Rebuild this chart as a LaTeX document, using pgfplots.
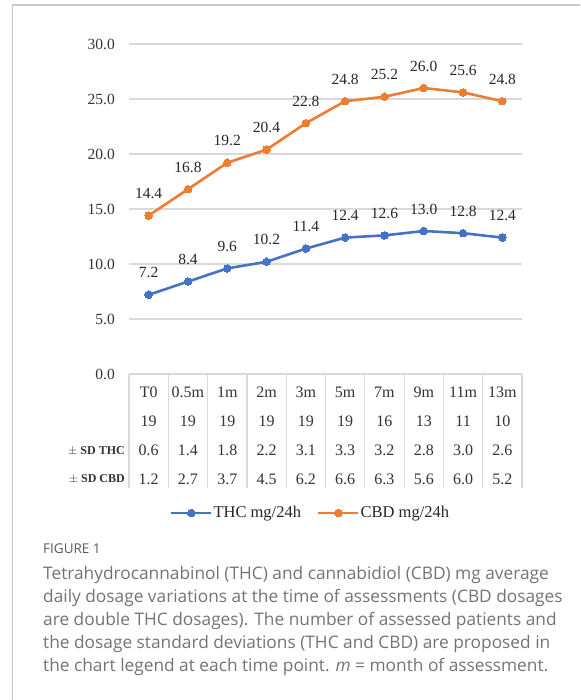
\documentclass[border=0pt]{standalone}
\usepackage{pgfplots}
\pgfplotsset{compat=1.18}
\usepackage{fontspec}
\setmainfont{Liberation Serif}
\newfontfamily\capfont{Open Sans}

\definecolor{thcblue}{HTML}{4472C4}
\definecolor{cbdorange}{HTML}{ED7D31}
\definecolor{gridcol}{HTML}{D9D9D9}
\definecolor{framecol}{HTML}{C8C8C8}
\definecolor{capgray}{HTML}{5A5A5A}

\begin{document}
\begin{tikzpicture}[x=1pt,y=1pt]
    \path[use as bounding box] (0,0) rectangle (580,700);
    % page frame
    \draw[framecol, line width=1.2pt] (12.5,0) -- (12.5,695) -- (580,695);

    \begin{axis}[
        at={(129pt,326pt)}, anchor=south west,
        scale only axis,
        width=393pt, height=330pt,
        xmin=-0.5, xmax=9.5,
        ymin=0, ymax=30,
        clip=false,
        axis line style={draw=none},
        tick style={draw=none},
        ytick={0,5,...,30},
        ymajorgrids,
        major grid style={gridcol, line width=1.2pt},
        /pgf/number format/assume math mode=true,
        yticklabel={\pgfmathprintnumber[fixed,zerofill,precision=1]{\tick}},
        yticklabel style={font=\fontsize{15.5}{18}\selectfont, text=black!80, inner sep=0pt, xshift=-14pt},
        xtick={0,...,9},
        xticklabels={
            {T0\\19\\0.6\\1.2},
            {0.5m\\19\\1.4\\2.7},
            {1m\\19\\1.8\\3.7},
            {2m\\19\\2.2\\4.5},
            {3m\\19\\3.1\\6.2},
            {5m\\19\\3.3\\6.6},
            {7m\\16\\3.2\\6.3},
            {9m\\13\\2.8\\5.6},
            {11m\\11\\3.0\\6.0},
            {13m\\10\\2.6\\5.2}},
        xticklabel style={align=center, anchor=north, inner sep=0pt, yshift=-13pt,
            font=\fontsize{16}{29}\selectfont, text=black!80},
        legend columns=2,
        legend style={draw=none, fill=none, at={(0.4606,-0.4212)}, anchor=center,
            font=\fontsize{16.5}{19}\selectfont, text=black!85,
            /tikz/every even column/.append style={column sep=15pt},
            nodes={inner sep=1pt}},
        legend cell align=left,
        legend image code/.code={
            \draw[#1, mark repeat=2, mark phase=2]
                plot coordinates {(0pt,0pt) (20pt,0pt) (40pt,0pt)};},
        nodes near coords={\pgfmathprintnumber[fixed,zerofill,precision=1]{\pgfplotspointmeta}},
        every node near coord/.append style={anchor=center, yshift=22pt,
            font=\fontsize{15.5}{18}\selectfont, text=black!85},
        ]
    % THC mg/24h
    \addplot[thcblue, line width=2.6pt, mark=*, mark size=3.8pt,
        mark options={solid, line width=0pt}]
        coordinates {
        (0,7.2) (1,8.4) (2,9.6) (3,10.2) (4,11.4)
        (5,12.4) (6,12.6) (7,13.0) (8,12.8) (9,12.4)
        };
    \addlegendentry{THC mg/24h}
    % CBD mg/24h
    \addplot[cbdorange, line width=2.6pt, mark=*, mark size=3.8pt,
        mark options={solid, line width=0pt}]
        coordinates {
        (0,14.4) (1,16.8) (2,19.2) (3,20.4) (4,22.8)
        (5,24.8) (6,25.2) (7,26.0) (8,25.6) (9,24.8)
        };
    \addlegendentry{CBD mg/24h}
    \end{axis}

    % data table cell borders
    \foreach \i in {0,...,10}
        \draw[gridcol, line width=1.2pt] (129+39.3*\i,326) -- ++(0,-114);
    % row labels
    \node[anchor=east, inner sep=0pt, font=\bfseries\fontsize{12}{14}\selectfont, text=black!80]
        at (125,249) {$\pm$ SD THC};
    \node[anchor=east, inner sep=0pt, font=\bfseries\fontsize{12}{14}\selectfont, text=black!80]
        at (125,221) {$\pm$ SD CBD};

    % caption
    \node[anchor=north west, inner sep=0pt, text=capgray,
        font=\capfont\fontsize{13.5}{16}\selectfont] at (43,156) {FIGURE 1};
    \node[anchor=north west, inner sep=0pt, align=left, text=capgray!85,
        font=\capfont\fontsize{17.3}{23.1}\selectfont] at (43,134)
        {Tetrahydrocannabinol (THC) and cannabidiol (CBD) mg average\\
         daily dosage variations at the time of assessments (CBD dosages\\
         are double THC dosages). The number of assessed patients and\\
         the dosage standard deviations (THC and CBD) are proposed in\\
         the chart legend at each time point. \textit{m} = month of assessment.};
\end{tikzpicture}
\end{document}
